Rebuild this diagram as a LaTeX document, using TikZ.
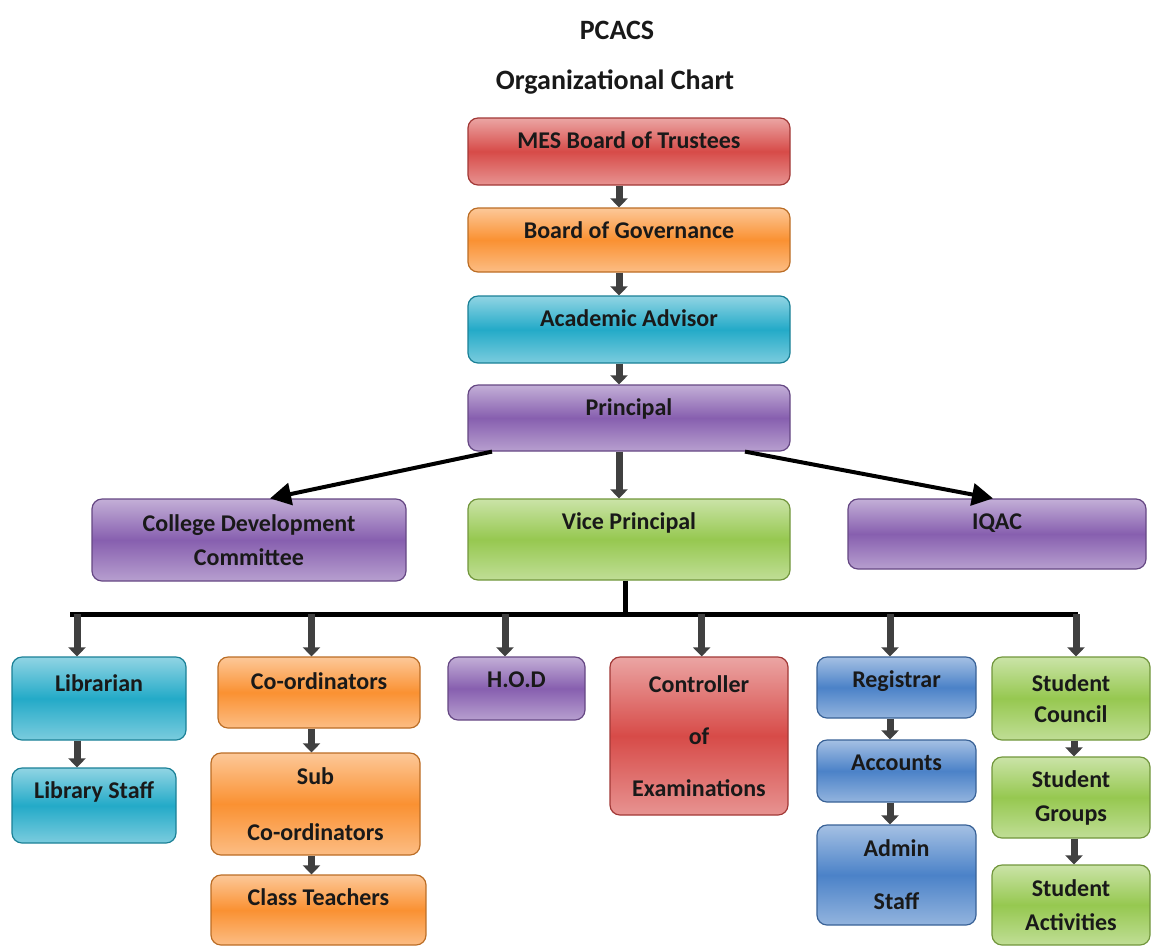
\documentclass[tikz,border=0pt]{standalone}
\usepackage{fontspec}
\setmainfont{Carlito}
\usetikzlibrary{arrows.meta}

\definecolor{cRed}{RGB}{215,75,72}
\definecolor{cOrange}{RGB}{250,145,50}
\definecolor{cCyan}{RGB}{35,170,200}
\definecolor{cPurple}{RGB}{135,95,175}
\definecolor{cGreen}{RGB}{150,200,80}
\definecolor{cBlue}{RGB}{75,130,200}

\begin{document}
\begin{tikzpicture}[x=0.5pt,y=-0.5pt,
		every node/.style={font=\bfseries\fontsize{12}{14}\selectfont, text=black!90},
		box/.style={rounded corners=5pt, draw=#1!75!black, line width=0.6pt,
			top color=#1!50!white, bottom color=#1!60!white, middle color=#1,
			inner sep=0pt},
		hang/.style={text height=15pt, text depth=#1},
		flow/.style={line width=3.5pt, draw=black!75,
			-{Triangle[width=8.5pt,length=4.5pt]}},
		lead/.style={line width=2pt, -{Triangle[width=11pt,length=10.5pt]}},
		bus/.style={line width=2.5pt}]

		\useasboundingbox (0,0) rectangle (1156,949);

		% title
		\node[font=\bfseries\fontsize{14}{16}\selectfont] (pcacs) at (617,30) {PCACS};
		\node[font=\bfseries\fontsize{14}{16}\selectfont] (title) at (615,82) {Organizational Chart};

		% top chain
		\node[box=cRed, hang=18.5pt, minimum width=161pt] (mes) at (629,151.5) {MES Board of Trustees};
		\node[box=cOrange, hang=17pt, minimum width=161pt] (bog) at (629,240) {Board of Governance};
		\node[box=cCyan, hang=18.5pt, minimum width=161pt] (aa) at (629,329.5) {Academic Advisor};
		\node[box=cPurple, hang=18pt, minimum width=161pt] (prin) at (629,418) {Principal};

		% second row
		\node[box=cPurple, minimum width=157pt, minimum height=41pt, align=center] (cdc) at (249,540) {College Development\\[3pt]Committee};
		\node[box=cGreen, hang=25.5pt, minimum width=161pt] (vp) at (629,539.5) {Vice Principal};
		\node[box=cPurple, hang=20pt, minimum width=149pt] (iqac) at (997,534) {IQAC};

		% bottom row
		\node[box=cCyan, text height=17pt, text depth=24.5pt, minimum width=87pt] (lib) at (99,698.5) {Librarian};
		\node[box=cCyan, hang=22.5pt, minimum width=82pt] (libst) at (94,805.5) {Library Staff};

		\node[box=cOrange, text height=16pt, text depth=19.5pt, minimum width=101pt] (coord) at (319,692.5) {Co-ordinators};
		\node[box=cOrange, minimum width=104.5pt, minimum height=51pt, align=center] (sub) at (315.5,804) {Sub\\[14pt]Co-ordinators};
		\node[box=cOrange, hang=20pt, minimum width=107.5pt] (ct) at (318.5,910) {Class Teachers};

		\node[box=cPurple, hang=16.5pt, minimum width=68.5pt] (hod) at (516.5,688.5) {H.O.D};

		\node[box=cRed, minimum width=89pt, minimum height=79pt, align=center] (coe) at (699,736) {Controller\\[12pt]of\\[12pt]Examinations};

		\node[box=cBlue, hang=15.5pt, minimum width=79.5pt] (reg) at (896.5,687.5) {Registrar};
		\node[box=cBlue, hang=16pt, minimum width=79.5pt] (acc) at (896.5,771) {Accounts};
		\node[box=cBlue, minimum width=79.5pt, minimum height=50pt, align=center] (adm) at (896.5,875) {Admin\\[12.5pt]Staff};

		\node[box=cGreen, minimum width=79pt, minimum height=41.5pt, align=center] (sc) at (1071,698.5) {Student\\[1.5pt]Council};
		\node[box=cGreen, minimum width=79pt, minimum height=40.5pt, align=center] (sg) at (1071,797.5) {Student\\[3pt]Groups};
		\node[box=cGreen, minimum width=79pt, minimum height=40pt, align=center] (sa) at (1071,905) {Student\\[3pt]Activities};

		% edges
		\foreach \a/\b in {mes/bog, bog/aa, aa/prin, prin/vp}
			\draw[flow] ([xshift=-5pt]\a.south) -- ([xshift=-5pt]\b.north);

		\draw[lead] ([xshift=-68.5pt]prin.south) -- ([xshift=10.5pt]cdc.north);
		\draw[lead] ([xshift=58pt]prin.south) -- ([xshift=-2pt]iqac.north);

		\coordinate (busL) at (70,614);
		\coordinate (busR) at (1078,614);
		\draw[bus] ([xshift=-2pt]vp.south) -- ([xshift=-2pt]vp.south |- busL);
		\draw[bus] (busL) -- (busR);

		\foreach \n/\dx in {lib/-11pt, coord/-3.75pt, hod/-5.75pt, coe/1.35pt, reg/-3.25pt, sc/2.5pt}
			\draw[flow] ([xshift=\dx]\n.north |- busL) -- ([xshift=\dx]\n.north);

		\draw[flow] ([xshift=-11pt]lib.south) -- ([xshift=-11pt]lib.south |- libst.north);
		\draw[flow] ([xshift=-3.75pt]coord.south) -- ([xshift=-3.75pt]coord.south |- sub.north);
		\draw[flow] ([xshift=-2pt]sub.south) -- ([xshift=-2pt]sub.south |- ct.north);
		\foreach \a/\b in {reg/acc, acc/adm}
			\draw[flow] ([xshift=-3.25pt]\a.south) -- ([xshift=-3.25pt]\a.south |- \b.north);
		\foreach \a/\b in {sc/sg, sg/sa}
			\draw[flow] ([xshift=1.5pt]\a.south) -- ([xshift=1.5pt]\a.south |- \b.north);

\end{tikzpicture}
\end{document}
